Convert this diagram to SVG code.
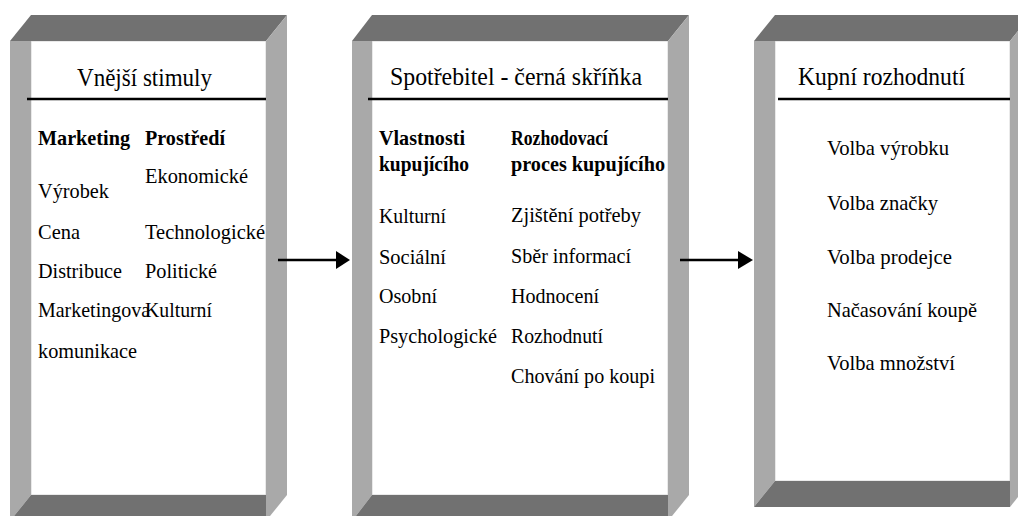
<svg xmlns="http://www.w3.org/2000/svg" width="1018" height="516" viewBox="0 0 1018 516">
  <style>
    .face-dark { fill: #717171; }
    .face-light { fill: #a9a9a9; }
    .back { fill: #ffffff; stroke: #d4d4d4; stroke-width: 1; }
    .rule { stroke: #000000; stroke-width: 2.3; }
    text { font-family: 'Liberation Serif', 'Times New Roman', serif; fill: #000000; }
    .title { font-size: 26px; }
    .txt { font-size: 21.5px; }
    .bold { font-weight: bold; }
    .conn { stroke: #000000; stroke-width: 2.3; fill: none; }
    .head { fill: #000000; }
  </style>

  <rect width="1018" height="516" fill="#ffffff"/>

  <!-- Box 1: external stimuli -->
  <g id="vnejsi-stimuly">
    <rect class="back" x="31" y="41" width="235" height="454"/>
    <polygon class="face-dark" points="10,41 31,15 287,15 266,41"/>
    <polygon class="face-light" points="10,41 31,41 31,495 10,521"/>
    <polygon class="face-dark" points="31,495 266,495 266,521 10,521"/>
    <polygon class="face-light" points="266,41 287,15 287,495 266,521"/>
    <text class="title" x="77" y="86" textLength="135" lengthAdjust="spacingAndGlyphs">Vnější stimuly</text>
    <line class="rule" x1="27" y1="99" x2="266" y2="99"/>
    <text class="txt bold" x="38" y="145" textLength="92" lengthAdjust="spacingAndGlyphs">Marketing</text>
    <text class="txt bold" x="145" y="145" textLength="80" lengthAdjust="spacingAndGlyphs">Prostředí</text>
    <text class="txt" x="145" y="183" textLength="103" lengthAdjust="spacingAndGlyphs">Ekonomické</text>
    <text class="txt" x="38" y="198" textLength="71" lengthAdjust="spacingAndGlyphs">Výrobek</text>
    <text class="txt" x="38" y="239" textLength="42" lengthAdjust="spacingAndGlyphs">Cena</text>
    <text class="txt" x="145" y="239" textLength="120" lengthAdjust="spacingAndGlyphs">Technologické</text>
    <text class="txt" x="38" y="278" textLength="84" lengthAdjust="spacingAndGlyphs">Distribuce</text>
    <text class="txt" x="145" y="278" textLength="72" lengthAdjust="spacingAndGlyphs">Politické</text>
    <text class="txt" x="38" y="317" textLength="112" lengthAdjust="spacingAndGlyphs">Marketingova</text>
    <text class="txt" x="145" y="317" textLength="67" lengthAdjust="spacingAndGlyphs">Kulturní</text>
    <text class="txt" x="38" y="358" textLength="99" lengthAdjust="spacingAndGlyphs">komunikace</text>
  </g>

  <!-- Box 2: consumer black box -->
  <g id="spotrebitel">
    <rect class="back" x="372" y="41" width="296" height="454"/>
    <polygon class="face-dark" points="352,41 372,15 689,15 668,41"/>
    <polygon class="face-light" points="352,41 372,41 372,495 352,521"/>
    <polygon class="face-dark" points="372,495 668,495 668,521 352,521"/>
    <polygon class="face-light" points="668,41 689,15 689,495 668,521"/>
    <text class="title" x="390" y="85" textLength="252" lengthAdjust="spacingAndGlyphs">Spotřebitel - černá skříňka</text>
    <line class="rule" x1="368" y1="99" x2="668" y2="99"/>
    <text class="txt bold" x="379" y="145" textLength="86" lengthAdjust="spacingAndGlyphs">Vlastnosti</text>
    <text class="txt bold" x="379" y="171" textLength="90" lengthAdjust="spacingAndGlyphs">kupujícího</text>
    <text class="txt bold" x="511" y="145" textLength="97" lengthAdjust="spacingAndGlyphs">Rozhodovací</text>
    <text class="txt bold" x="511" y="171" textLength="154" lengthAdjust="spacingAndGlyphs">proces kupujícího</text>
    <text class="txt" x="379" y="223" textLength="67" lengthAdjust="spacingAndGlyphs">Kulturní</text>
    <text class="txt" x="511" y="222" textLength="130" lengthAdjust="spacingAndGlyphs">Zjištění potřeby</text>
    <text class="txt" x="379" y="264" textLength="67" lengthAdjust="spacingAndGlyphs">Sociální</text>
    <text class="txt" x="511" y="263" textLength="120" lengthAdjust="spacingAndGlyphs">Sběr informací</text>
    <text class="txt" x="379" y="303" textLength="58" lengthAdjust="spacingAndGlyphs">Osobní</text>
    <text class="txt" x="511" y="303" textLength="88" lengthAdjust="spacingAndGlyphs">Hodnocení</text>
    <text class="txt" x="379" y="343" textLength="118" lengthAdjust="spacingAndGlyphs">Psychologické</text>
    <text class="txt" x="511" y="343" textLength="92" lengthAdjust="spacingAndGlyphs">Rozhodnutí</text>
    <text class="txt" x="511" y="383" textLength="144" lengthAdjust="spacingAndGlyphs">Chování po koupi</text>
  </g>

  <!-- Box 3: purchase decision -->
  <g id="kupni-rozhodnuti">
    <rect class="back" x="775" y="41" width="235" height="440"/>
    <polygon class="face-dark" points="754,41 775,15 1031,15 1010,41"/>
    <polygon class="face-light" points="754,41 775,41 775,481 754,507"/>
    <polygon class="face-dark" points="775,481 1010,481 1010,507 754,507"/>
    <polygon class="face-light" points="1010,41 1031,15 1031,481 1010,507"/>
    <text class="title" x="798" y="85" textLength="167" lengthAdjust="spacingAndGlyphs">Kupní rozhodnutí</text>
    <line class="rule" x1="778" y1="99" x2="1010" y2="99"/>
    <text class="txt" x="827" y="155" textLength="122" lengthAdjust="spacingAndGlyphs">Volba výrobku</text>
    <text class="txt" x="827" y="210" textLength="111" lengthAdjust="spacingAndGlyphs">Volba značky</text>
    <text class="txt" x="827" y="264" textLength="125" lengthAdjust="spacingAndGlyphs">Volba prodejce</text>
    <text class="txt" x="827" y="317" textLength="150" lengthAdjust="spacingAndGlyphs">Načasování koupě</text>
    <text class="txt" x="827" y="370" textLength="128" lengthAdjust="spacingAndGlyphs">Volba množství</text>
  </g>

  <!-- Connectors -->
  <g id="connectors">
    <line class="conn" x1="278" y1="260" x2="337" y2="260"/>
    <polygon class="head" points="336,251 350,260 336,269"/>
    <line class="conn" x1="680" y1="260" x2="739" y2="260"/>
    <polygon class="head" points="738,251 753,260 738,269"/>
  </g>
</svg>
